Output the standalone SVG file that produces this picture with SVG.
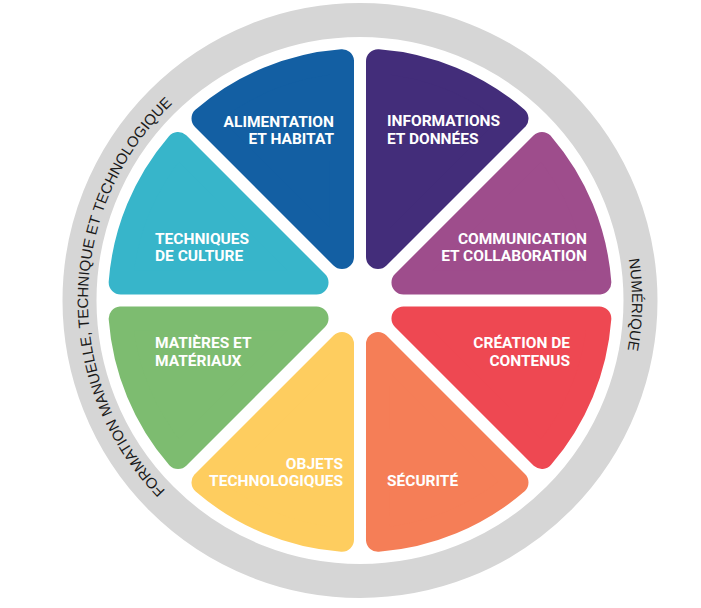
<svg xmlns="http://www.w3.org/2000/svg" width="701" height="608" viewBox="0 0 701 608">
  <style>
    .sec { stroke-width: 24; stroke-linejoin: round; }
    .lbl { font-family: Roboto, "Liberation Sans", Arial, sans-serif; font-weight: 700; font-size: 15.5px; fill: #ffffff; }
    .ring-txt { font-family: "Liberation Sans", Arial, sans-serif; font-size: 15px; fill: #1a1a1a; }
  </style>
  <defs>
    <path id="sector" d="M43.46,18 L239.32,18 A240,240 0 0 1 181.95,156.5 Z"/>
    <path id="ringPath" d="M360,572.5 A272,272 0 1,1 360,28.5 A272,272 0 1,1 360,572.5" fill="none"/>
  </defs>
  <rect width="701" height="608" fill="#ffffff"/>

  <g id="ring">
    <circle cx="360" cy="300.5" r="280.5" fill="none" stroke="#d6d6d6" stroke-width="34"/>
    <text class="ring-txt"><textPath href="#ringPath" startOffset="216.5">FORMATION</textPath></text>
    <text class="ring-txt"><textPath href="#ringPath" startOffset="310.7">MANUELLE,</textPath></text>
    <text class="ring-txt"><textPath href="#ringPath" startOffset="399.9">TECHNIQUE</textPath></text>
    <text class="ring-txt"><textPath href="#ringPath" startOffset="492.4">ET</textPath></text>
    <text class="ring-txt"><textPath href="#ringPath" startOffset="515.7">TECHNOLOGIQUE</textPath></text>
    <text class="ring-txt" text-anchor="middle"><textPath href="#ringPath" startOffset="1285.3">NUMÉRIQUE</textPath></text>
  </g>

  <g id="connectors"></g>

  <g id="node-creation">
    <use href="#sector" class="sec" fill="#ee4852" stroke="#ee4852" transform="translate(360,300.5) rotate(0)"/>
    <text class="lbl" text-anchor="end"><tspan x="570" y="348">CRÉATION DE</tspan><tspan x="570" y="365.5">CONTENUS</tspan></text>
  </g>
  <g id="node-securite">
    <use href="#sector" class="sec" fill="#f57e57" stroke="#f57e57" transform="translate(360,300.5) rotate(45)"/>
    <text class="lbl" text-anchor="start"><tspan x="387" y="486">SÉCURITÉ</tspan></text>
  </g>
  <g id="node-objets">
    <use href="#sector" class="sec" fill="#fecd5f" stroke="#fecd5f" transform="translate(360,300.5) rotate(90)"/>
    <text class="lbl" text-anchor="end"><tspan x="343" y="468.5">OBJETS</tspan><tspan x="343" y="486">TECHNOLOGIQUES</tspan></text>
  </g>
  <g id="node-matieres">
    <use href="#sector" class="sec" fill="#7dbc70" stroke="#7dbc70" transform="translate(360,300.5) rotate(135)"/>
    <text class="lbl" text-anchor="start"><tspan x="155" y="348">MATIÈRES ET</tspan><tspan x="155" y="365.5">MATÉRIAUX</tspan></text>
  </g>
  <g id="node-techniques">
    <use href="#sector" class="sec" fill="#37b5ca" stroke="#37b5ca" transform="translate(360,300.5) rotate(180)"/>
    <text class="lbl" text-anchor="start"><tspan x="155" y="243.5">TECHNIQUES</tspan><tspan x="155" y="261">DE CULTURE</tspan></text>
  </g>
  <g id="node-alimentation">
    <use href="#sector" class="sec" fill="#135fa3" stroke="#135fa3" transform="translate(360,300.5) rotate(225)"/>
    <text class="lbl" text-anchor="end"><tspan x="334" y="126.5">ALIMENTATION</tspan><tspan x="334" y="144">ET HABITAT</tspan></text>
  </g>
  <g id="node-informations">
    <use href="#sector" class="sec" fill="#432d7a" stroke="#432d7a" transform="translate(360,300.5) rotate(270)"/>
    <text class="lbl" text-anchor="start"><tspan x="387" y="126">INFORMATIONS</tspan><tspan x="387" y="143.5">ET DONNÉES</tspan></text>
  </g>
  <g id="node-communication">
    <use href="#sector" class="sec" fill="#9e4d8c" stroke="#9e4d8c" transform="translate(360,300.5) rotate(315)"/>
    <text class="lbl" text-anchor="end"><tspan x="587" y="243.5">COMMUNICATION</tspan><tspan x="587" y="261">ET COLLABORATION</tspan></text>
  </g>
</svg>
